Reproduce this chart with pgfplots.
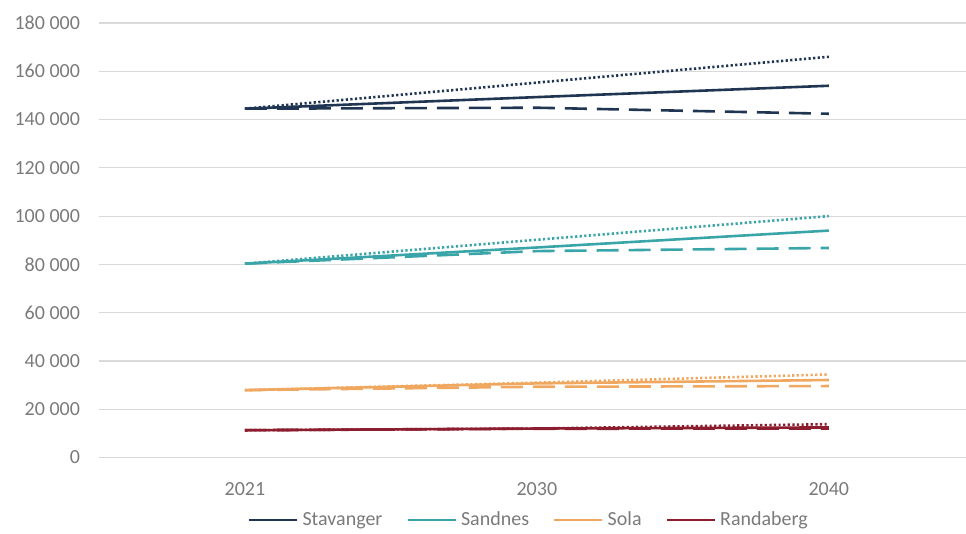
\documentclass[border=0pt]{standalone}
\usepackage{pgfplots}
\pgfplotsset{compat=1.18}
\usepackage{fontspec}
\setmainfont{Carlito}

\definecolor{stav}{HTML}{1F3552}
\definecolor{sand}{HTML}{3AA5A9}
\definecolor{sola}{HTML}{F0A860}
\definecolor{rand}{HTML}{8C1D2E}
\definecolor{gridc}{HTML}{D9D9D9}
\definecolor{txt}{HTML}{7A7A7A}

\begin{document}
\begin{tikzpicture}
\path[use as bounding box] (-49.5pt,-38.25pt) rectangle (433.5pt,228.75pt);
\begin{axis}[
    scale only axis, width=433.5pt, height=217.25pt,
    xmin=-0.5, xmax=2.47, ymin=0, ymax=180000,
    axis line style={draw=none},
    xtick={0,1,2}, xticklabels={2021,2030,2040},
    ytick={0,20000,...,180000},
    scaled y ticks=false,
    yticklabels={0,20\ 000,40\ 000,60\ 000,80\ 000,100\ 000,120\ 000,140\ 000,160\ 000,180\ 000},
    major tick length=0pt,
    ymajorgrids, grid style={gridc, line width=0.6pt},
    tick label style={font=\fontsize{10}{12}\selectfont, text=txt},
    yticklabel style={xshift=-6pt},
    xticklabel style={yshift=-9pt},
    legend columns=4,
    legend style={at={(0.497,-0.144)}, anchor=center, draw=none, fill=none,
        font=\fontsize{10}{12}\selectfont, text=txt,
        /tikz/every even column/.append style={column sep=10pt}},
    legend image code/.code={\draw[#1] (0pt,0pt) -- (24pt,0pt);},
]
% main scenario (solid)
\addplot[stav, line width=1.3pt] coordinates {(0,144500) (1,149300) (2,154000)};
\addlegendentry{Stavanger}
\addplot[sand, line width=1.3pt] coordinates {(0,80300) (1,87000) (2,94000)};
\addlegendentry{Sandnes}
\addplot[sola, line width=1.3pt] coordinates {(0,27900) (1,30700) (2,32100)};
\addlegendentry{Sola}
\addplot[rand, line width=1.3pt] coordinates {(0,11300) (1,12000) (2,12450)};
\addlegendentry{Randaberg}
% high scenario (dotted)
\addplot[forget plot, stav, line width=1.3pt, dash pattern=on 1.1pt off 1.2pt] coordinates {(0,144500) (1,155300) (2,166000)};
\addplot[forget plot, sand, line width=1.3pt, dash pattern=on 1.1pt off 1.2pt] coordinates {(0,80300) (1,90200) (2,100000)};
\addplot[forget plot, sola, line width=1.3pt, dash pattern=on 1.1pt off 1.2pt] coordinates {(0,27900) (1,31000) (2,34400)};
\addplot[forget plot, rand, line width=1.3pt, dash pattern=on 1.1pt off 1.2pt] coordinates {(0,11300) (1,12000) (2,13800)};
% low scenario (dashed)
\addplot[forget plot, stav, line width=1.3pt, dash pattern=on 11pt off 5pt] coordinates {(0,144500) (1,144900) (2,142400)};
\addplot[forget plot, sand, line width=1.3pt, dash pattern=on 11pt off 5pt] coordinates {(0,80300) (1,85500) (2,86800)};
\addplot[forget plot, sola, line width=1.3pt, dash pattern=on 11pt off 5pt] coordinates {(0,27900) (1,29300) (2,29600)};
\addplot[forget plot, rand, line width=1.3pt, dash pattern=on 11pt off 5pt] coordinates {(0,11300) (1,11900) (2,12000)};
\end{axis}
\end{tikzpicture}
\end{document}
